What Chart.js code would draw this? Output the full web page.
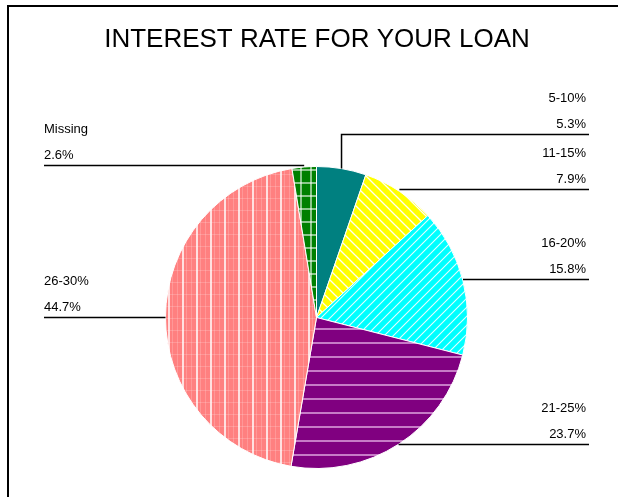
<!DOCTYPE html>
<html>
<head>
<meta charset="utf-8">
<title>Interest rate for your loan</title>
<script src="https://cdn.jsdelivr.net/npm/chart.js@4/dist/chart.umd.min.js"></script>
<style>
  html, body { margin: 0; padding: 0; background: #fff; }
  #wrap { width: 618px; height: 497px; position: relative; }
</style>
</head>
<body>
<div id="wrap"><canvas id="loanPie" width="618" height="497"></canvas></div>
<script>
// slices, clockwise from 12 o'clock
const categories = ['5-10%', '11-15%', '16-20%', '21-25%', '26-30%', 'Missing'];
const shares = [5.3, 7.9, 15.8, 23.7, 44.7, 2.6];

const chartTitle = 'INTEREST RATE FOR YOUR LOAN';
const FONT = "'Liberation Sans', Arial, Helvetica, sans-serif";

// small tile -> CanvasPattern helper
function makePattern(w, h, paint) {
    const tile = document.createElement('canvas');
    tile.width = w;
    tile.height = h;
    const t = tile.getContext('2d');
    paint(t, w, h);
    return document.getElementById('loanPie').getContext('2d').createPattern(tile, 'repeat');
}

function line(t, x1, y1, x2, y2) {
    t.beginPath();
    t.moveTo(x1, y1);
    t.lineTo(x2, y2);
    t.stroke();
}

const fills = [
    // 5-10% : plain teal
    '#008080',
    // 11-15% : yellow with "\" stripes
    makePattern(10, 10, (t, w, h) => {
        t.fillStyle = '#ffff00'; t.fillRect(0, 0, w, h);
        t.strokeStyle = 'rgba(255,255,255,0.95)'; t.lineWidth = 1.3;
        line(t, -1, -1, w + 1, h + 1);
        line(t, -1, h - 1, 1, h + 1);
        line(t, w - 1, -1, w + 1, 1);
    }),
    // 16-20% : cyan with "/" stripes
    makePattern(9, 9, (t, w, h) => {
        t.fillStyle = '#00ffff'; t.fillRect(0, 0, w, h);
        t.strokeStyle = 'rgba(255,255,255,0.9)'; t.lineWidth = 1.1;
        line(t, -1, h + 1, w + 1, -1);
        line(t, -1, 1, 1, -1);
        line(t, w - 1, h + 1, w + 1, h - 1);
    }),
    // 21-25% : purple with horizontal lines
    makePattern(8, 14, (t, w, h) => {
        t.fillStyle = '#800080'; t.fillRect(0, 0, w, h);
        t.strokeStyle = 'rgba(255,220,255,0.75)'; t.lineWidth = 1.5;
        line(t, 0, 7, w, 7);
    }),
    // 26-30% : salmon with vertical lines over a faint grid
    makePattern(14, 12, (t, w, h) => {
        t.fillStyle = '#ff8080'; t.fillRect(0, 0, w, h);
        t.strokeStyle = 'rgba(255,255,255,0.18)'; t.lineWidth = 1;
        line(t, 0, 6.5, w, 6.5);
        line(t, 4.5, 0, 4.5, h);
        line(t, 9.5, 0, 9.5, h);
        t.strokeStyle = 'rgba(255,255,255,0.95)'; t.lineWidth = 1.6;
        line(t, 1, 0, 1, h);
    }),
    // Missing : green with white grid
    makePattern(10, 13, (t, w, h) => {
        t.fillStyle = '#008000'; t.fillRect(0, 0, w, h);
        t.strokeStyle = 'rgba(255,255,255,0.85)'; t.lineWidth = 1.3;
        line(t, 0, 1, w, 1);
        line(t, 1, 0, 1, h);
    })
];

// title, frame and the label callouts with leader lines
const calloutPlugin = {
    id: 'callouts',
    afterDraw(chart) {
        const ctx = chart.ctx;
        ctx.save();

        ctx.strokeStyle = '#000';
        ctx.lineWidth = 2;
        ctx.beginPath();
        ctx.moveTo(8, 497);
        ctx.lineTo(8, 6);
        ctx.lineTo(618, 6);
        ctx.stroke();

        ctx.fillStyle = '#000';
        ctx.font = '26px ' + FONT;
        ctx.textAlign = 'center';
        ctx.textBaseline = 'alphabetic';
        ctx.fillText(chartTitle, 317, 47);

        const arcs = chart.getDatasetMeta(0).data;
        const items = arcs.map((arc, i) => {
            const p = arc.getProps(['x', 'y', 'startAngle', 'endAngle', 'outerRadius'], true);
            const mid = (p.startAngle + p.endAngle) / 2;
            const ex = p.x + Math.cos(mid) * p.outerRadius;
            const ey = p.y + Math.sin(mid) * p.outerRadius;
            return { i, ex, ey, lineY: ey, left: Math.cos(mid) < 0 };
        });

        // keep stacked labels on each side at least one block apart
        const gap = 55;
        [true, false].forEach(side => {
            const group = items.filter(it => it.left === side).sort((a, b) => b.ey - a.ey);
            for (let k = 1; k < group.length; k++) {
                group[k].lineY = Math.min(group[k].lineY - 2, group[k - 1].lineY - gap);
            }
        });

        ctx.font = '13px ' + FONT;
        ctx.lineWidth = 1.5;
        items.forEach(it => {
            const y = Math.round(it.lineY) + 0.5;
            const edgeX = it.left ? 44 : 589;
            ctx.beginPath();
            ctx.moveTo(edgeX, y);
            ctx.lineTo(it.ex, y);
            if (Math.abs(it.ey - y) > 4) ctx.lineTo(it.ex, it.ey);
            ctx.stroke();

            ctx.textAlign = it.left ? 'left' : 'right';
            const tx = it.left ? 44 : 586;
            ctx.fillText(categories[it.i], tx, y - 33);
            ctx.fillText(shares[it.i].toFixed(1) + '%', tx, y - 7);
        });

        ctx.restore();
    }
};

new Chart(document.getElementById('loanPie'), {
    type: 'pie',
    data: {
        labels: categories,
        datasets: [{
            data: shares,
            backgroundColor: fills,
            borderColor: '#ffffff',
            borderWidth: 1
        }]
    },
    options: {
        responsive: false,
        animation: false,
        events: [],
        layout: {
            padding: { left: 165, right: 150, top: 166, bottom: 28 }
        },
        plugins: {
            legend: { display: false },
            title: { display: false },
            tooltip: { enabled: false }
        }
    },
    plugins: [calloutPlugin]
});
</script>
</body>
</html>
